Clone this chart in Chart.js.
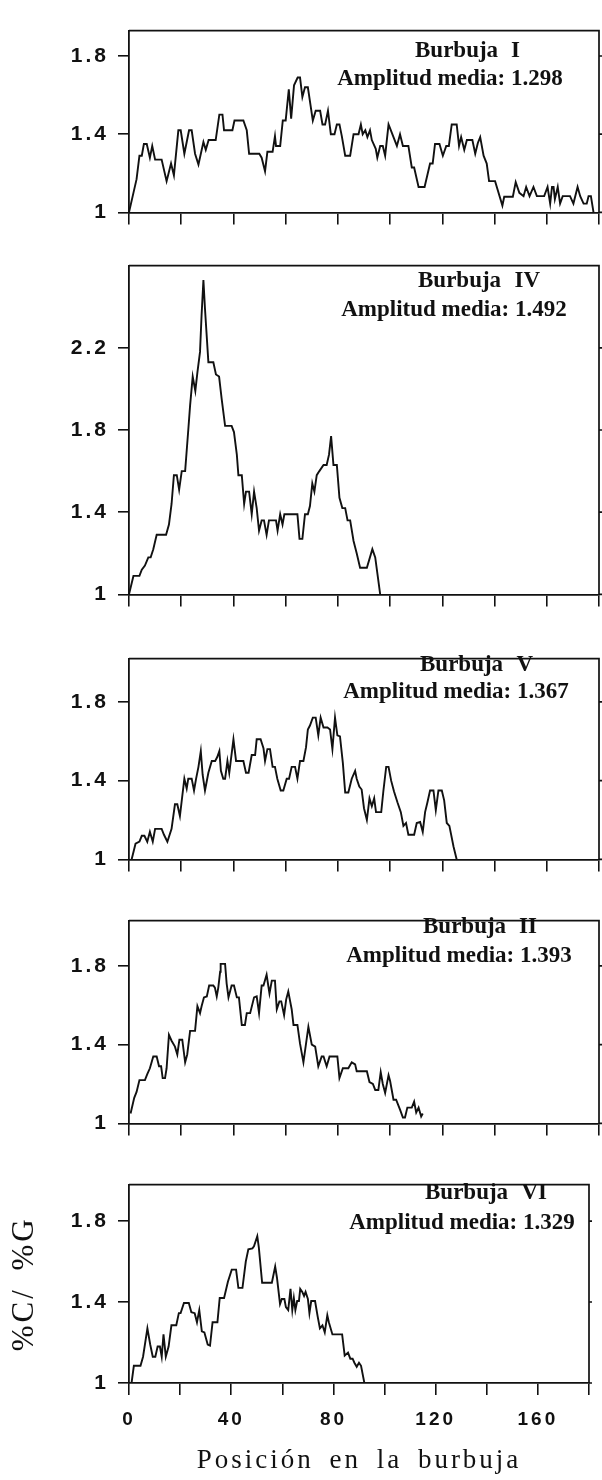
<!DOCTYPE html>
<html>
<head>
<meta charset="utf-8">
<script src="https://cdn.jsdelivr.net/npm/chart.js@4.4.1/dist/chart.umd.min.js"></script>
<style>
    html, body { margin: 0; padding: 0; background: #fff; }
    #wrap { position: relative; width: 602px; height: 1480px; overflow: hidden; }
    #wrap canvas { position: absolute; left: 0; }
</style>
</head>
<body>
<div id="wrap"></div>
<script>
// position along the bubble / %C-%G ratio (vertices of each trace)
var posI = [
    0, 1.7, 2.9, 4.0, 4.9, 5.7, 6.8, 8.0, 8.9, 10.0,
    12.5, 14.4, 16.1, 17.2, 18.9, 19.8, 21.2, 23.0, 24.0, 25.3,
    26.6, 28.5, 29.4, 30.5, 33.2, 34.6, 35.8, 36.4, 39.6, 40.4,
    43.8, 45.1, 46.0, 49.9, 50.8, 52.1, 53.0, 55.0, 55.9, 56.3,
    57.9, 58.9, 60.0, 61.2, 62.1, 63.2, 64.6, 65.5, 66.4, 67.4,
    68.5, 70.4, 71.5, 73.2, 74.1, 75.1, 76.2, 77.3, 78.7, 79.6,
    80.6, 81.5, 82.8, 84.7, 86.0, 87.9, 88.8, 89.5, 90.5, 91.3,
    92.3, 93.0, 94.5, 95.1, 96.2, 97.2, 98.1, 99.4, 100.0, 102.6,
    103.8, 104.9, 107.0, 108.3, 109.2, 110.9, 113.2, 115.3, 116.3, 117.2,
    118.9, 120.2, 121.5, 122.5, 123.6, 125.5, 126.4, 127.2, 128.4, 129.4,
    131.5, 132.6, 133.6, 134.5, 135.8, 137.0, 137.9, 140.2, 143.0, 143.7,
    147.0, 148.1, 149.5, 151.1, 152.1, 153.4, 154.9, 156.2, 159.0, 160.3,
    161.3, 162.0, 162.6, 163.1, 164.2, 165.1, 166.1, 168.9, 170.2, 171.8,
    172.8, 174.1, 175.3, 176.0, 176.9, 177.9
];
var valI = [
    1.00, 1.10, 1.17, 1.29, 1.29, 1.35, 1.35, 1.28, 1.34, 1.27,
    1.27, 1.16, 1.25, 1.19, 1.42, 1.42, 1.30, 1.42, 1.42, 1.30,
    1.245, 1.36, 1.32, 1.37, 1.37, 1.50, 1.50, 1.42, 1.42, 1.47,
    1.47, 1.42, 1.30, 1.30, 1.28, 1.21, 1.31, 1.31, 1.39, 1.34,
    1.34, 1.47, 1.47, 1.63, 1.48, 1.65, 1.69, 1.69, 1.59, 1.64,
    1.64, 1.47, 1.52, 1.52, 1.45, 1.45, 1.52, 1.40, 1.40, 1.45,
    1.45, 1.39, 1.29, 1.29, 1.40, 1.40, 1.45, 1.40, 1.42, 1.385,
    1.42, 1.37, 1.325, 1.28, 1.34, 1.34, 1.29, 1.45, 1.43, 1.34,
    1.40, 1.34, 1.34, 1.23, 1.23, 1.13, 1.13, 1.25, 1.25, 1.35,
    1.35, 1.29, 1.34, 1.34, 1.45, 1.45, 1.34, 1.385, 1.32, 1.37,
    1.37, 1.30, 1.355, 1.385, 1.29, 1.25, 1.16, 1.16, 1.035, 1.08,
    1.08, 1.155, 1.10, 1.083, 1.13, 1.083, 1.13, 1.083, 1.083, 1.13,
    1.045, 1.13, 1.13, 1.068, 1.13, 1.045, 1.083, 1.083, 1.045, 1.13,
    1.083, 1.045, 1.045, 1.083, 1.083, 1.00
];

var posIV = [
    0, 1.7, 4.0, 4.9, 6.1, 7.4, 8.3, 9.3, 10.6, 14.2,
    15.3, 16.3, 17.2, 18.3, 19.2, 20.2, 21.5, 22.7, 23.4, 24.4,
    25.4, 26.2, 27.2, 27.8, 28.5, 29.1, 30.4, 32.3, 33.3, 34.5,
    35.5, 36.8, 39.3, 40.2, 41.3, 41.9, 43.2, 44.1, 44.8, 46.0,
    47.0, 47.9, 48.9, 49.8, 50.8, 51.7, 52.7, 53.6, 56.3, 56.9,
    57.9, 58.8, 59.5, 64.5, 65.3, 66.4, 67.4, 68.5, 69.3, 70.2,
    71.0, 71.9, 72.9, 74.5, 75.7, 76.6, 77.4, 78.3, 79.6, 80.6,
    81.7, 82.8, 83.7, 84.7, 86.0, 87.2, 88.5, 91.1, 93.2, 94.3,
    96.2
];
var valIV = [
    1.00, 1.09, 1.09, 1.12, 1.14, 1.18, 1.18, 1.22, 1.29, 1.29,
    1.34, 1.44, 1.58, 1.58, 1.51, 1.60, 1.60, 1.80, 1.92, 2.06,
    1.99, 2.08, 2.18, 2.36, 2.53, 2.39, 2.13, 2.13, 2.07, 2.06,
    1.95, 1.82, 1.82, 1.79, 1.68, 1.58, 1.58, 1.44, 1.50, 1.50,
    1.39, 1.50, 1.42, 1.31, 1.36, 1.36, 1.29, 1.36, 1.36, 1.31,
    1.39, 1.34, 1.39, 1.39, 1.27, 1.27, 1.39, 1.39, 1.43, 1.54,
    1.50, 1.58, 1.60, 1.63, 1.63, 1.68, 1.77, 1.63, 1.63, 1.47,
    1.42, 1.42, 1.36, 1.36, 1.26, 1.20, 1.13, 1.13, 1.22, 1.18,
    1.00
];

var posV = [
    1.0, 2.5, 4.0, 4.9, 5.9, 7.0, 8.0, 9.1, 10.0, 12.5,
    13.4, 14.7, 16.3, 17.6, 18.5, 19.5, 21.2, 22.1, 22.7, 24.0,
    24.9, 25.7, 26.6, 27.5, 28.2, 29.1, 30.4, 31.7, 33.0, 33.8,
    34.6, 35.2, 36.1, 36.8, 37.7, 38.4, 40.0, 41.0, 43.8, 44.8,
    45.8, 47.0, 48.3, 48.9, 50.4, 51.5, 52.1, 53.0, 54.0, 55.0,
    55.9, 56.8, 58.1, 59.1, 60.4, 61.3, 62.3, 63.6, 64.5, 65.5,
    66.8, 67.8, 68.5, 69.3, 70.4, 71.5, 72.5, 73.4, 74.5, 76.0,
    77.0, 77.9, 78.9, 79.8, 80.8, 81.9, 82.8, 84.0, 85.3, 86.6,
    87.2, 88.2, 89.1, 90.0, 91.1, 92.1, 93.0, 93.9, 94.6, 96.6,
    97.4, 98.5, 99.4, 100.4, 101.5, 102.8, 104.1, 105.1, 106.1, 107.0,
    109.2, 110.2, 111.5, 112.5, 113.4, 114.3, 115.3, 116.6, 117.5, 118.5,
    119.8, 120.7, 121.7, 122.7, 124.3, 125.5
];
var valV = [
    1.00, 1.08, 1.09, 1.12, 1.12, 1.09, 1.14, 1.09, 1.155, 1.155,
    1.125, 1.09, 1.155, 1.28, 1.28, 1.22, 1.41, 1.36, 1.41, 1.41,
    1.35, 1.41, 1.47, 1.55, 1.43, 1.35, 1.44, 1.50, 1.50, 1.52,
    1.55, 1.45, 1.41, 1.41, 1.50, 1.44, 1.61, 1.50, 1.50, 1.44,
    1.44, 1.53, 1.53, 1.61, 1.61, 1.565, 1.50, 1.56, 1.56, 1.47,
    1.47, 1.41, 1.35, 1.35, 1.41, 1.41, 1.47, 1.47, 1.41, 1.50,
    1.50, 1.57, 1.66, 1.68, 1.72, 1.72, 1.63, 1.72, 1.67, 1.67,
    1.66, 1.56, 1.72, 1.63, 1.625, 1.49, 1.34, 1.34, 1.41, 1.45,
    1.41, 1.37, 1.355, 1.26, 1.20, 1.31, 1.27, 1.31, 1.24, 1.24,
    1.345, 1.47, 1.47, 1.40, 1.345, 1.29, 1.24, 1.17, 1.185, 1.125,
    1.125, 1.185, 1.19, 1.14, 1.24, 1.29, 1.35, 1.35, 1.25, 1.35,
    1.35, 1.30, 1.185, 1.17, 1.064, 1.00
];

var posII = [
    0.6, 2.0, 2.9, 4.0, 6.1, 7.0, 8.0, 9.3, 10.6, 11.5,
    12.3, 12.9, 13.8, 14.4, 15.3, 16.3, 17.6, 18.5, 19.3, 20.4,
    21.5, 22.3, 23.4, 25.3, 26.2, 27.2, 27.8, 28.7, 29.8, 30.7,
    32.3, 32.9, 33.6, 34.2, 34.9, 35.1, 36.8, 37.4, 38.1, 39.3,
    40.2, 41.3, 42.1, 43.2, 44.4, 45.1, 46.4, 47.9, 48.9, 49.8,
    50.8, 51.5, 52.7, 53.8, 54.7, 55.9, 56.6, 57.6, 58.3, 59.4,
    60.2, 61.0, 62.3, 63.0, 64.5, 65.5, 66.8, 67.8, 68.7, 70.0,
    71.3, 72.5, 73.8, 74.5, 75.7, 76.8, 79.8, 80.6, 81.9, 84.0,
    85.3, 86.6, 87.2, 91.1, 92.1, 93.4, 94.3, 95.5, 96.4, 97.2,
    98.1, 99.4, 100.0, 101.3, 102.3, 103.8, 104.9, 105.7, 106.6, 108.3,
    109.2, 110.0, 110.9, 111.9, 112.5
];
var valII = [
    1.05, 1.13, 1.16, 1.22, 1.22, 1.25, 1.28, 1.34, 1.34, 1.29,
    1.29, 1.23, 1.23, 1.28, 1.45, 1.42, 1.39, 1.35, 1.425, 1.425,
    1.31, 1.35, 1.47, 1.47, 1.595, 1.56, 1.595, 1.64, 1.645, 1.70,
    1.70, 1.69, 1.645, 1.69, 1.77, 1.81, 1.81, 1.71, 1.64, 1.70,
    1.70, 1.64, 1.64, 1.50, 1.50, 1.56, 1.56, 1.64, 1.645, 1.56,
    1.70, 1.70, 1.755, 1.66, 1.725, 1.725, 1.58, 1.62, 1.62, 1.55,
    1.63, 1.67, 1.58, 1.50, 1.50, 1.405, 1.31, 1.405, 1.49, 1.40,
    1.39, 1.29, 1.34, 1.34, 1.29, 1.34, 1.34, 1.23, 1.28, 1.28,
    1.31, 1.30, 1.265, 1.265, 1.21, 1.20, 1.17, 1.17, 1.26, 1.20,
    1.155, 1.245, 1.215, 1.12, 1.12, 1.07, 1.03, 1.03, 1.08, 1.08,
    1.11, 1.055, 1.08, 1.035, 1.05
];

var posVI = [
    1.0, 1.9, 4.5, 5.5, 7.2, 8.3, 9.3, 10.3, 11.2, 12.1,
    12.8, 13.5, 14.4, 15.5, 16.6, 18.5, 19.5, 20.2, 21.5, 23.4,
    24.4, 25.7, 26.6, 27.5, 28.5, 29.5, 30.8, 31.7, 32.7, 34.6,
    35.5, 37.2, 38.7, 40.2, 41.9, 42.8, 44.4, 45.7, 46.7, 48.3,
    48.9, 50.2, 50.8, 52.1, 55.9, 57.2, 57.9, 59.1, 59.8, 60.8,
    61.4, 62.3, 63.2, 63.9, 64.5, 65.1, 65.8, 66.5, 67.0, 67.8,
    68.5, 69.1, 70.0, 70.6, 71.3, 72.8, 73.8, 74.7, 75.7, 76.6,
    77.6, 78.2, 79.6, 83.4, 84.4, 85.7, 86.6, 87.5, 88.2, 89.1,
    90.0, 90.8, 92.1
];
var valVI = [
    1.00, 1.085, 1.085, 1.13, 1.27, 1.19, 1.13, 1.13, 1.18, 1.18,
    1.13, 1.24, 1.13, 1.18, 1.285, 1.285, 1.345, 1.345, 1.395, 1.395,
    1.35, 1.345, 1.30, 1.36, 1.255, 1.25, 1.19, 1.185, 1.30, 1.30,
    1.42, 1.42, 1.50, 1.56, 1.56, 1.47, 1.47, 1.60, 1.66, 1.665,
    1.675, 1.725, 1.67, 1.495, 1.495, 1.575, 1.52, 1.39, 1.415, 1.415,
    1.375, 1.36, 1.465, 1.36, 1.42, 1.36, 1.405, 1.405, 1.465, 1.45,
    1.43, 1.45, 1.415, 1.345, 1.405, 1.405, 1.33, 1.27, 1.285, 1.25,
    1.335, 1.30, 1.24, 1.24, 1.135, 1.15, 1.12, 1.12, 1.10, 1.08,
    1.10, 1.085, 1.00
];

var xTicks = [0, 20, 40, 60, 80, 100, 120, 140, 160, 180];
var xLabels = [0, 40, 80, 120, 160];
var yTicksLow = [1, 1.4, 1.8];
var yTicksHigh = [1, 1.4, 1.8, 2.2];

// layout of each stacked panel (pixels on the page)
var panels = [
    { pos: posI, val: valI, yMax: 1.93, yTicks: yTicksLow, num: 'I', amp: 'Amplitud media: 1.298',
      top: 13, bottom: 218, nameX: 415, numRight: 520, nameY: 57, ampX: 450, ampY: 85 },
    { pos: posIV, val: valIV, yMax: 2.6, yTicks: yTicksHigh, num: 'IV', amp: 'Amplitud media: 1.492',
      top: 248, bottom: 600, nameX: 418, numRight: 540, nameY: 287, ampX: 454, ampY: 316 },
    { pos: posV, val: valV, yMax: 2.02, yTicks: yTicksLow, num: 'V', amp: 'Amplitud media: 1.367',
      top: 641, bottom: 865, nameX: 420, numRight: 533, nameY: 671, ampX: 456, ampY: 698 },
    { pos: posII, val: valII, yMax: 2.03, yTicks: yTicksLow, num: 'II', amp: 'Amplitud media: 1.393',
      top: 903, bottom: 1129, nameX: 423, numRight: 537, nameY: 933, ampX: 459, ampY: 962 },
    { pos: posVI, val: valVI, yMax: 1.98, yTicks: yTicksLow, num: 'VI', amp: 'Amplitud media: 1.329',
      top: 1167, bottom: 1383, nameX: 425, numRight: 547, nameY: 1199, ampX: 462, ampY: 1229 }
];

var INK = '#111';
var SANS = "'Liberation Sans', Arial, sans-serif";
var SERIF = "'Liberation Serif', 'Times New Roman', serif";

// the printed figure uses spaced-out lettering for axis text
var spacingPlugin = {
    id: 'spacing',
    beforeDraw: function (chart) {
        chart.ctx.letterSpacing = '3px';
        chart.ctx.wordSpacing = '6px';
    },
    afterDraw: function (chart) {
        chart.ctx.letterSpacing = '0px';
        chart.ctx.wordSpacing = '0px';
    }
};

// box around the plot + the two-line caption in the upper right
var framePlugin = {
    id: 'frame',
    afterDraw: function (chart, args, opts) {
        var ctx = chart.ctx;
        var a = chart.chartArea;
        var ys = chart.scales.y;
        ctx.save();
        ctx.strokeStyle = INK;
        ctx.lineWidth = 1.7;
        ctx.beginPath();
        ctx.moveTo(a.left, a.top);
        ctx.lineTo(a.right, a.top);
        ctx.lineTo(a.right, a.bottom);
        ys.ticks.forEach(function (t) {
            var y = ys.getPixelForValue(t.value);
            ctx.moveTo(a.right, y);
            ctx.lineTo(a.right + 3, y);
        });
        ctx.stroke();

        ctx.letterSpacing = '0px';
        ctx.fillStyle = INK;
        ctx.font = 'bold 23px ' + SERIF;
        ctx.textBaseline = 'alphabetic';
        ctx.textAlign = 'left';
        ctx.fillText('Burbuja', opts.nameX, opts.nameY - opts.offset);
        ctx.textAlign = 'right';
        ctx.fillText(opts.num, opts.numRight, opts.nameY - opts.offset);
        ctx.textAlign = 'center';
        ctx.fillText(opts.amp, opts.ampX, opts.ampY - opts.offset);
        ctx.restore();
    }
};

var wrap = document.getElementById('wrap');

panels.forEach(function (p, i) {
    var last = i === panels.length - 1;
    var cTop = p.top - 4;
    var cBottom = last ? 1480 : p.bottom + 16;
    var canvas = document.createElement('canvas');
    canvas.width = 602;
    canvas.height = cBottom - cTop;
    canvas.style.top = cTop + 'px';
    canvas.style.width = '602px';
    canvas.style.height = (cBottom - cTop) + 'px';
    wrap.appendChild(canvas);

    var points = p.pos.map(function (x, k) {
        return { x: x, y: p.val[k] };
    });

    new Chart(canvas, {
        type: 'line',
        data: {
            datasets: [{
                data: points,
                borderColor: INK,
                borderWidth: 1.9,
                pointRadius: 0,
                tension: 0,
                fill: false
            }]
        },
        options: {
            responsive: false,
            animation: false,
            devicePixelRatio: 1,
            layout: { padding: { top: 4, right: 3, left: 0, bottom: 0 } },
            plugins: {
                legend: { display: false },
                tooltip: { enabled: false },
                frame: {
                    offset: cTop, nameX: p.nameX, nameY: p.nameY, num: p.num,
                    numRight: p.numRight, amp: p.amp, ampX: p.ampX, ampY: p.ampY
                }
            },
            scales: {
                x: {
                    type: 'linear',
                    min: 0,
                    max: 180,
                    afterBuildTicks: function (s) {
                        s.ticks = xTicks.map(function (v) { return { value: v }; });
                    },
                    afterFit: function (s) { s.height = cBottom - p.bottom; },
                    grid: { drawOnChartArea: false, tickLength: 12, color: INK, lineWidth: 1.6 },
                    border: { color: INK, width: 1.8 },
                    ticks: {
                        display: last,
                        autoSkip: false,
                        maxRotation: 0,
                        padding: 13,
                        color: INK,
                        font: { family: SANS, size: 19, weight: 'bold' },
                        callback: function (v) { return xLabels.indexOf(v) >= 0 ? String(v) : ''; }
                    },
                    title: {
                        display: last,
                        text: 'Posición en la burbuja',
                        color: INK,
                        font: { family: SERIF, size: 27 },
                        padding: { top: 0, bottom: 3 }
                    }
                },
                y: {
                    min: 1,
                    max: p.yMax,
                    afterBuildTicks: function (s) {
                        s.ticks = p.yTicks.map(function (v) { return { value: v }; });
                    },
                    afterFit: function (s) { s.width = 129; },
                    grid: { drawOnChartArea: false, tickLength: 11, color: INK, lineWidth: 1.6 },
                    border: { color: INK, width: 1.8 },
                    ticks: {
                        padding: 9,
                        color: INK,
                        font: { family: SANS, size: 21, weight: 'bold' },
                        callback: function (v) { return String(+v.toFixed(2)); }
                    },
                    title: {
                        display: last,
                        text: '%C/ %G',
                        color: INK,
                        font: { family: SERIF, size: 31 },
                        padding: { top: 6, bottom: 0 }
                    }
                }
            }
        },
        plugins: [spacingPlugin, framePlugin]
    });
});
</script>
</body>
</html>
